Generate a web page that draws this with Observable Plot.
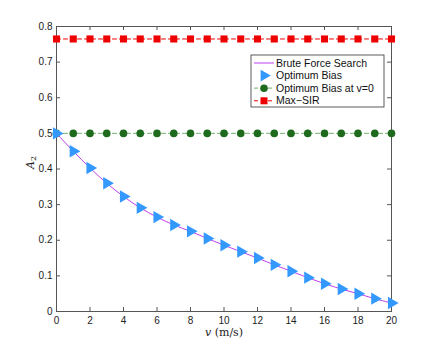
<!DOCTYPE html>
<html>
<head>
<meta charset="utf-8">
<script src="https://cdn.jsdelivr.net/npm/d3@7"></script>
<script src="https://cdn.jsdelivr.net/npm/@observablehq/plot@0.6"></script>
<style>
html,body{margin:0;padding:0;background:#fff;}
#chart{position:relative;width:432px;height:350px;}
</style>
</head>
<body>
<div id="chart"></div>
<script>
const v = [0,1,2,3,4,5,6,7,8,9,10,11,12,13,14,15,16,17,18,19,20];
const bruteForce = [0.5,0.45,0.403,0.36,0.323,0.291,0.265,0.243,0.225,0.205,0.186,0.168,0.15,0.131,0.113,0.095,0.078,0.063,0.05,0.036,0.024];
const optimumBias = [0.5,0.45,0.403,0.36,0.323,0.291,0.265,0.243,0.225,0.205,0.186,0.168,0.15,0.131,0.113,0.095,0.078,0.063,0.05,0.036,0.024];
const optimumBiasV0 = v.map(() => 0.5);
const maxSIR = v.map(() => 0.765);
const xTicks = [0,2,4,6,8,10,12,14,16,18,20];
const yTicks = [0,0.1,0.2,0.3,0.4,0.5,0.6,0.7,0.8];
const legendLabels = ["Brute Force Search","Optimum Bias","Optimum Bias at v=0","Max\u2212SIR"];

const colors = {brute:"#c040f0", opt:"#3399ff", green:"#1e6b1e", greenLine:"#8cbf8c", red:"#ee0000"};

const rows = (ys) => v.map((x,i) => ({x, y: ys[i]}));
const W = 432, H = 350;
const mL = 56, mR = 41, mT = 26, mB = 39;
const tickLenX = 4 * 20 / (W - mL - mR);
const tickLenY = 4 * 0.8 / (H - mT - mB);

const plot = Plot.plot({
  width: W, height: H,
  marginLeft: mL, marginRight: mR, marginTop: mT, marginBottom: mB,
  style: {fontFamily: "Liberation Sans, Arial, sans-serif", fontSize: "10px", color: "#222", background: "#fff"},
  x: {domain: [0,20], label: null},
  y: {domain: [0,0.8], label: null},
  marks: [
    Plot.axisX(xTicks, {tickSize: 0, tickPadding: 5, tickFormat: d => String(d), fontSize: 10}),
    Plot.axisY(yTicks, {tickSize: 0, tickPadding: 4, tickFormat: d => d === 0 ? "0" : d3.format(".1f")(d), fontSize: 10}),
    Plot.ruleX(xTicks, {x: d => d, y1: 0, y2: tickLenY, stroke: "#555"}),
    Plot.ruleX(xTicks, {x: d => d, y1: 0.8 - tickLenY, y2: 0.8, stroke: "#555"}),
    Plot.ruleY(yTicks, {y: d => d, x1: 0, x2: tickLenX, stroke: "#555"}),
    Plot.ruleY(yTicks, {y: d => d, x1: 20 - tickLenX, x2: 20, stroke: "#555"}),
    Plot.frame({stroke: "#555"}),
    Plot.line(rows(maxSIR), {x: "x", y: "y", stroke: colors.red, strokeDasharray: "4,3", strokeWidth: 1}),
    Plot.dot(rows(maxSIR), {x: "x", y: "y", symbol: "square", r: 4, fill: colors.red, stroke: "none"}),
    Plot.line(rows(optimumBiasV0), {x: "x", y: "y", stroke: colors.greenLine, strokeDasharray: "4,3", strokeWidth: 1.2}),
    Plot.dot(rows(optimumBiasV0), {x: "x", y: "y", symbol: "circle", r: 3.8, fill: colors.green, stroke: "none"}),
    Plot.line(rows(bruteForce), {x: "x", y: "y", stroke: colors.brute, strokeWidth: 1, curve: "catmull-rom"}),
    Plot.dot(rows(optimumBias), {x: "x", y: "y", symbol: "triangle", rotate: 90, r: 4.6, fill: colors.opt, stroke: "none"}),
    Plot.text(["A"], {frameAnchor: "left", dx: -26, rotate: -90, text: d => d, fontFamily: "DejaVu Serif, serif", fontStyle: "italic", fontSize: 11}),
    Plot.text(["XLABEL"], {frameAnchor: "bottom", dy: 24, text: d => d, fontFamily: "DejaVu Serif, serif", fontSize: 11})
  ]
});
document.getElementById("chart").appendChild(plot);

const svg = d3.select(plot);
const lg = svg.append("g").attr("font-family", "Liberation Sans, Arial, sans-serif").attr("font-size", 10.5).attr("text-anchor", "start");
const lx = 251, ly = 55, lw = 133, lh = 52;
lg.append("rect").attr("x", lx).attr("y", ly).attr("width", lw).attr("height", lh).attr("fill", "#fff").attr("stroke", "#333").attr("stroke-width", 0.8);
const rowY = i => ly + 8 + i * 12.6;
legendLabels.forEach((t, i) => {
  lg.append("text").attr("x", lx + 25).attr("y", rowY(i)).attr("dy", "0.35em").attr("fill", "#111").text(t);
});
lg.append("line").attr("x1", lx + 3).attr("x2", lx + 23).attr("y1", rowY(0)).attr("y2", rowY(0)).attr("stroke", colors.brute);
lg.append("path").attr("d", d3.symbol(d3.symbolTriangle, 60)()).attr("transform", `translate(${lx+13},${rowY(1)}) rotate(90)`).attr("fill", colors.opt);
lg.append("line").attr("x1", lx + 3).attr("x2", lx + 23).attr("y1", rowY(2)).attr("y2", rowY(2)).attr("stroke", colors.greenLine).attr("stroke-dasharray", "4,3").attr("stroke-width", 1.2);
lg.append("circle").attr("cx", lx + 13).attr("cy", rowY(2)).attr("r", 3.8).attr("fill", colors.green);
lg.append("line").attr("x1", lx + 3).attr("x2", lx + 23).attr("y1", rowY(3)).attr("y2", rowY(3)).attr("stroke", colors.red).attr("stroke-dasharray", "4,3");
lg.append("rect").attr("x", lx + 13 - 3.5).attr("y", rowY(3) - 3.5).attr("width", 7).attr("height", 7).attr("fill", colors.red);

svg.selectAll("text").filter(function(){ return this.textContent === "A"; }).each(function(){
  const t = d3.select(this);
  t.text(null);
  t.append("tspan").text("A");
  t.append("tspan").attr("font-size", 8).attr("font-style", "normal").attr("dy", "0.3em").text("2");
});
svg.selectAll("text").filter(function(){ return this.textContent === "XLABEL"; }).each(function(){
  const t = d3.select(this);
  t.text(null);
  t.append("tspan").attr("font-style", "italic").text("v");
  t.append("tspan").text(" (m/s)");
});
</script>
</body>
</html>
